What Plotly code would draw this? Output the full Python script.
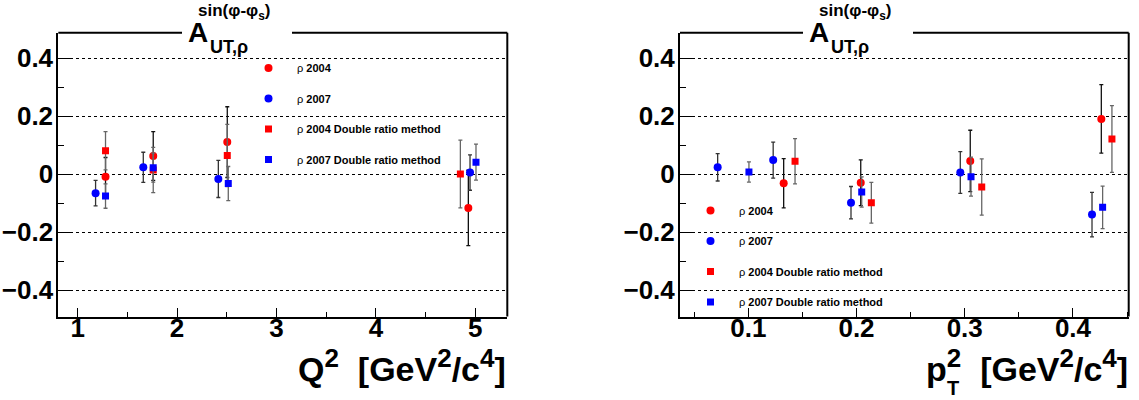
import plotly.graph_objects as go

W, H = 1139, 400

# ---------------- data ----------------
# left panel: Q^2
q2_r04_x = [1.28, 1.76, 2.505, 4.93]
q2_r04_y = [-0.008, 0.063, 0.111, -0.116]
q2_r04_e = [0.066, 0.084, 0.122, 0.130]

q2_r07_x = [1.18, 1.66, 2.415, 4.947]
q2_r07_y = [-0.065, 0.024, -0.016, 0.006]
q2_r07_e = [0.044, 0.052, 0.064, 0.061]

q2_d04_x = [1.28, 1.76, 2.505, 4.85]
q2_d04_y = [0.081, 0.015, 0.065, 0.001]
q2_d04_e = [0.066, 0.078, 0.107, 0.117]

q2_d07_x = [1.28, 1.76, 2.515, 5.007]
q2_d07_y = [-0.075, 0.023, -0.032, 0.042]
q2_d07_e = [0.042, 0.050, 0.059, 0.062]

# right panel: pT^2
pt_r04_x = [0.1327, 0.2039, 0.3051, 0.4262]
pt_r04_y = [-0.031, -0.029, 0.046, 0.191]
pt_r04_e = [0.085, 0.079, 0.106, 0.118]

pt_r07_x = [0.0717, 0.123, 0.1949, 0.2959, 0.4176]
pt_r07_y = [0.024, 0.049, -0.098, 0.006, -0.139]
pt_r07_e = [0.047, 0.062, 0.056, 0.072, 0.077]

pt_d04_x = [0.1432, 0.2137, 0.3157, 0.436]
pt_d04_y = [0.045, -0.098, -0.044, 0.122]
pt_d04_e = [0.078, 0.070, 0.097, 0.115]

pt_d07_x = [0.1006, 0.2048, 0.3058, 0.4274]
pt_d07_y = [0.008, -0.061, -0.008, -0.114]
pt_d07_e = [0.035, 0.052, 0.067, 0.073]

series_names = ["ρ <b>2004</b>", "ρ <b>2007</b>",
                "ρ <b>2004 Double ratio method</b>", "ρ <b>2007 Double ratio method</b>"]
y_tickvals = [-0.4, -0.2, 0, 0.2, 0.4]
y_ticktext = ["\u22120.4", "\u22120.2", "0", "0.2", "0.4"]
x1_tickvals = [1, 2, 3, 4, 5]
x2_tickvals = [0.1, 0.2, 0.3, 0.4]

# ---------------- layout helpers ----------------
def px(x):
    return x / W

def py(y):
    return 1 - y / H

L1, R1 = 58.3, 507.3
L2, R2 = 680.0, 1128.7
TOP, BOT = 32.7, 316.5

fig = go.Figure()

styles = [
    dict(symbol="circle", color="#ff0000", size=8, ecol="#111111"),
    dict(symbol="circle", color="#0000ff", size=8, ecol="#333333"),
    dict(symbol="square", color="#ff0000", size=7, ecol="#666666"),
    dict(symbol="square", color="#0000ff", size=7, ecol="#666666"),
]

left = [(q2_r04_x, q2_r04_y, q2_r04_e), (q2_r07_x, q2_r07_y, q2_r07_e),
        (q2_d04_x, q2_d04_y, q2_d04_e), (q2_d07_x, q2_d07_y, q2_d07_e)]
right = [(pt_r04_x, pt_r04_y, pt_r04_e), (pt_r07_x, pt_r07_y, pt_r07_e),
         (pt_d04_x, pt_d04_y, pt_d04_e), (pt_d07_x, pt_d07_y, pt_d07_e)]

for i, (xs, ys, es) in enumerate(left):
    s = styles[i]
    fig.add_trace(go.Scatter(
        x=xs, y=ys, mode="markers", name=series_names[i],
        marker=dict(symbol=s["symbol"], color=s["color"], size=s["size"], line=dict(width=0)),
        error_y=dict(type="data", array=es, color=s["ecol"], thickness=1.3, width=2),
        xaxis="x", yaxis="y", legend="legend", legendgroup="l%d" % i))
for i, (xs, ys, es) in enumerate(right):
    s = styles[i]
    fig.add_trace(go.Scatter(
        x=xs, y=ys, mode="markers", name=series_names[i],
        marker=dict(symbol=s["symbol"], color=s["color"], size=s["size"], line=dict(width=0)),
        error_y=dict(type="data", array=es, color=s["ecol"], thickness=1.3, width=2),
        xaxis="x2", yaxis="y2", legend="legend2", legendgroup="r%d" % i))

ff = "Liberation Sans, Arial, sans-serif"
tickfont = dict(family=ff, size=26, color="black", weight="bold")

yax = dict(range=[-0.4903, 0.4883], domain=[py(BOT), py(TOP)], tickvals=y_tickvals, ticktext=y_ticktext,
           ticks="inside", ticklen=13, tickwidth=1, tickcolor="black",
           minor=dict(ticks="inside", ticklen=6, dtick=0.1, tickcolor="black", showgrid=False),
           showline=True, linewidth=2, linecolor="black", showgrid=True, gridcolor="black",
           griddash="dot", gridwidth=1, zeroline=False, tickfont=tickfont, ticklabelstandoff=-2,
           automargin=False)

fig.update_layout(
    width=W, height=H, margin=dict(l=0, r=0, t=0, b=0),
    paper_bgcolor="white", plot_bgcolor="white",
    xaxis=dict(range=[0.805, 5.322], domain=[px(L1), px(R1)], tickvals=x1_tickvals,
               ticks="inside", ticklen=9, tickwidth=1, tickcolor="black",
               minor=dict(ticks="inside", ticklen=4.5, dtick=0.5, tickcolor="black"),
               showline=True, linewidth=2, linecolor="black", showgrid=False, zeroline=False,
               tickfont=tickfont, anchor="y", ticklabelstandoff=-13, automargin=False),
    xaxis2=dict(range=[0.0369, 0.4515], domain=[px(L2), px(R2)], tickvals=x2_tickvals,
                ticks="inside", ticklen=9, tickwidth=1, tickcolor="black",
                minor=dict(ticks="inside", ticklen=4.5, dtick=0.05, tickcolor="black"),
                showline=True, linewidth=2, linecolor="black", showgrid=False, zeroline=False,
                tickfont=tickfont, anchor="y2", ticklabelstandoff=-13, automargin=False),
    yaxis=dict(yax, anchor="x"),
    yaxis2=dict(yax, anchor="x2"),
    showlegend=True,
    legend=dict(x=px(240), y=py(53.5), xanchor="left", yanchor="top", bgcolor="rgba(0,0,0,0)",
                font=dict(family=ff, size=11, color="black"),
                itemwidth=47, tracegroupgap=11.5, traceorder="grouped"),
    legend2=dict(x=px(682), y=py(196), xanchor="left", yanchor="top", bgcolor="rgba(0,0,0,0)",
                 font=dict(family=ff, size=11, color="black"),
                 itemwidth=47, tracegroupgap=11.5, traceorder="grouped"),
)

# frame: right edge and top edge with a gap for the title
shapes = []
for (L, R, gap0, gap1) in [(L1, R1, 182, 292), (L2, R2, 803, 913)]:
    shapes.append(dict(type="line", xref="paper", yref="paper", x0=px(R), x1=px(R), y0=py(BOT), y1=py(TOP),
                       line=dict(color="black", width=2)))
    shapes.append(dict(type="line", xref="paper", yref="paper", x0=px(L), x1=px(gap0), y0=py(TOP), y1=py(TOP),
                       line=dict(color="black", width=2)))
    shapes.append(dict(type="line", xref="paper", yref="paper", x0=px(gap1), x1=px(R), y0=py(TOP), y1=py(TOP),
                       line=dict(color="black", width=2)))
fig.update_layout(shapes=shapes)

ann = []
for dx in [0, 621]:
    ann.append(dict(text="<b>A</b>", x=px(186 + dx), y=py(44), xref="paper", yref="paper",
                    xanchor="left", yanchor="bottom", showarrow=False, yshift=-6,
                    font=dict(family=ff, size=28, color="black")))
    ann.append(dict(text="<b>UT,ρ</b>", x=px(208 + dx), y=py(55), xref="paper", yref="paper",
                    xanchor="left", yanchor="bottom", showarrow=False, yshift=-4,
                    font=dict(family=ff, size=18, color="black")))
    ann.append(dict(text="<b>sin(φ-φ<sub>s</sub>)</b>", x=px(196 + dx), y=py(21.5), xref="paper", yref="paper",
                    xanchor="left", yanchor="bottom", showarrow=False, yshift=-4,
                    font=dict(family=ff, size=17, color="black")))

SUP = '<sup><span style="font-size:26px">%s</span></sup>'
q_title = "<b>Q" + SUP % "2" + "\u00a0 [GeV" + SUP % "2" + "/c" + SUP % "4" + "]</b>"
p_title = "<b>p" + SUP % "2" + "\u00a0 [GeV" + SUP % "2" + "/c" + SUP % "4" + "]</b>"
ann.append(dict(text=q_title, x=px(R1 + 1), y=py(382),
                xref="paper", yref="paper", xanchor="right", yanchor="bottom", showarrow=False, yshift=-8,
                font=dict(family=ff, size=34, color="black")))
ann.append(dict(text=p_title, x=px(R2 + 1), y=py(382),
                xref="paper", yref="paper", xanchor="right", yanchor="bottom", showarrow=False, yshift=-8,
                font=dict(family=ff, size=34, color="black")))
ann.append(dict(text="<b>T</b>", x=px(953), y=py(388), xref="paper", yref="paper",
                xanchor="center", yanchor="middle", showarrow=False,
                font=dict(family=ff, size=20, color="black")))
fig.update_layout(annotations=ann)

fig.write_html("out.html", post_script="document.body.style.margin='0';",
               config={"displayModeBar": False})
